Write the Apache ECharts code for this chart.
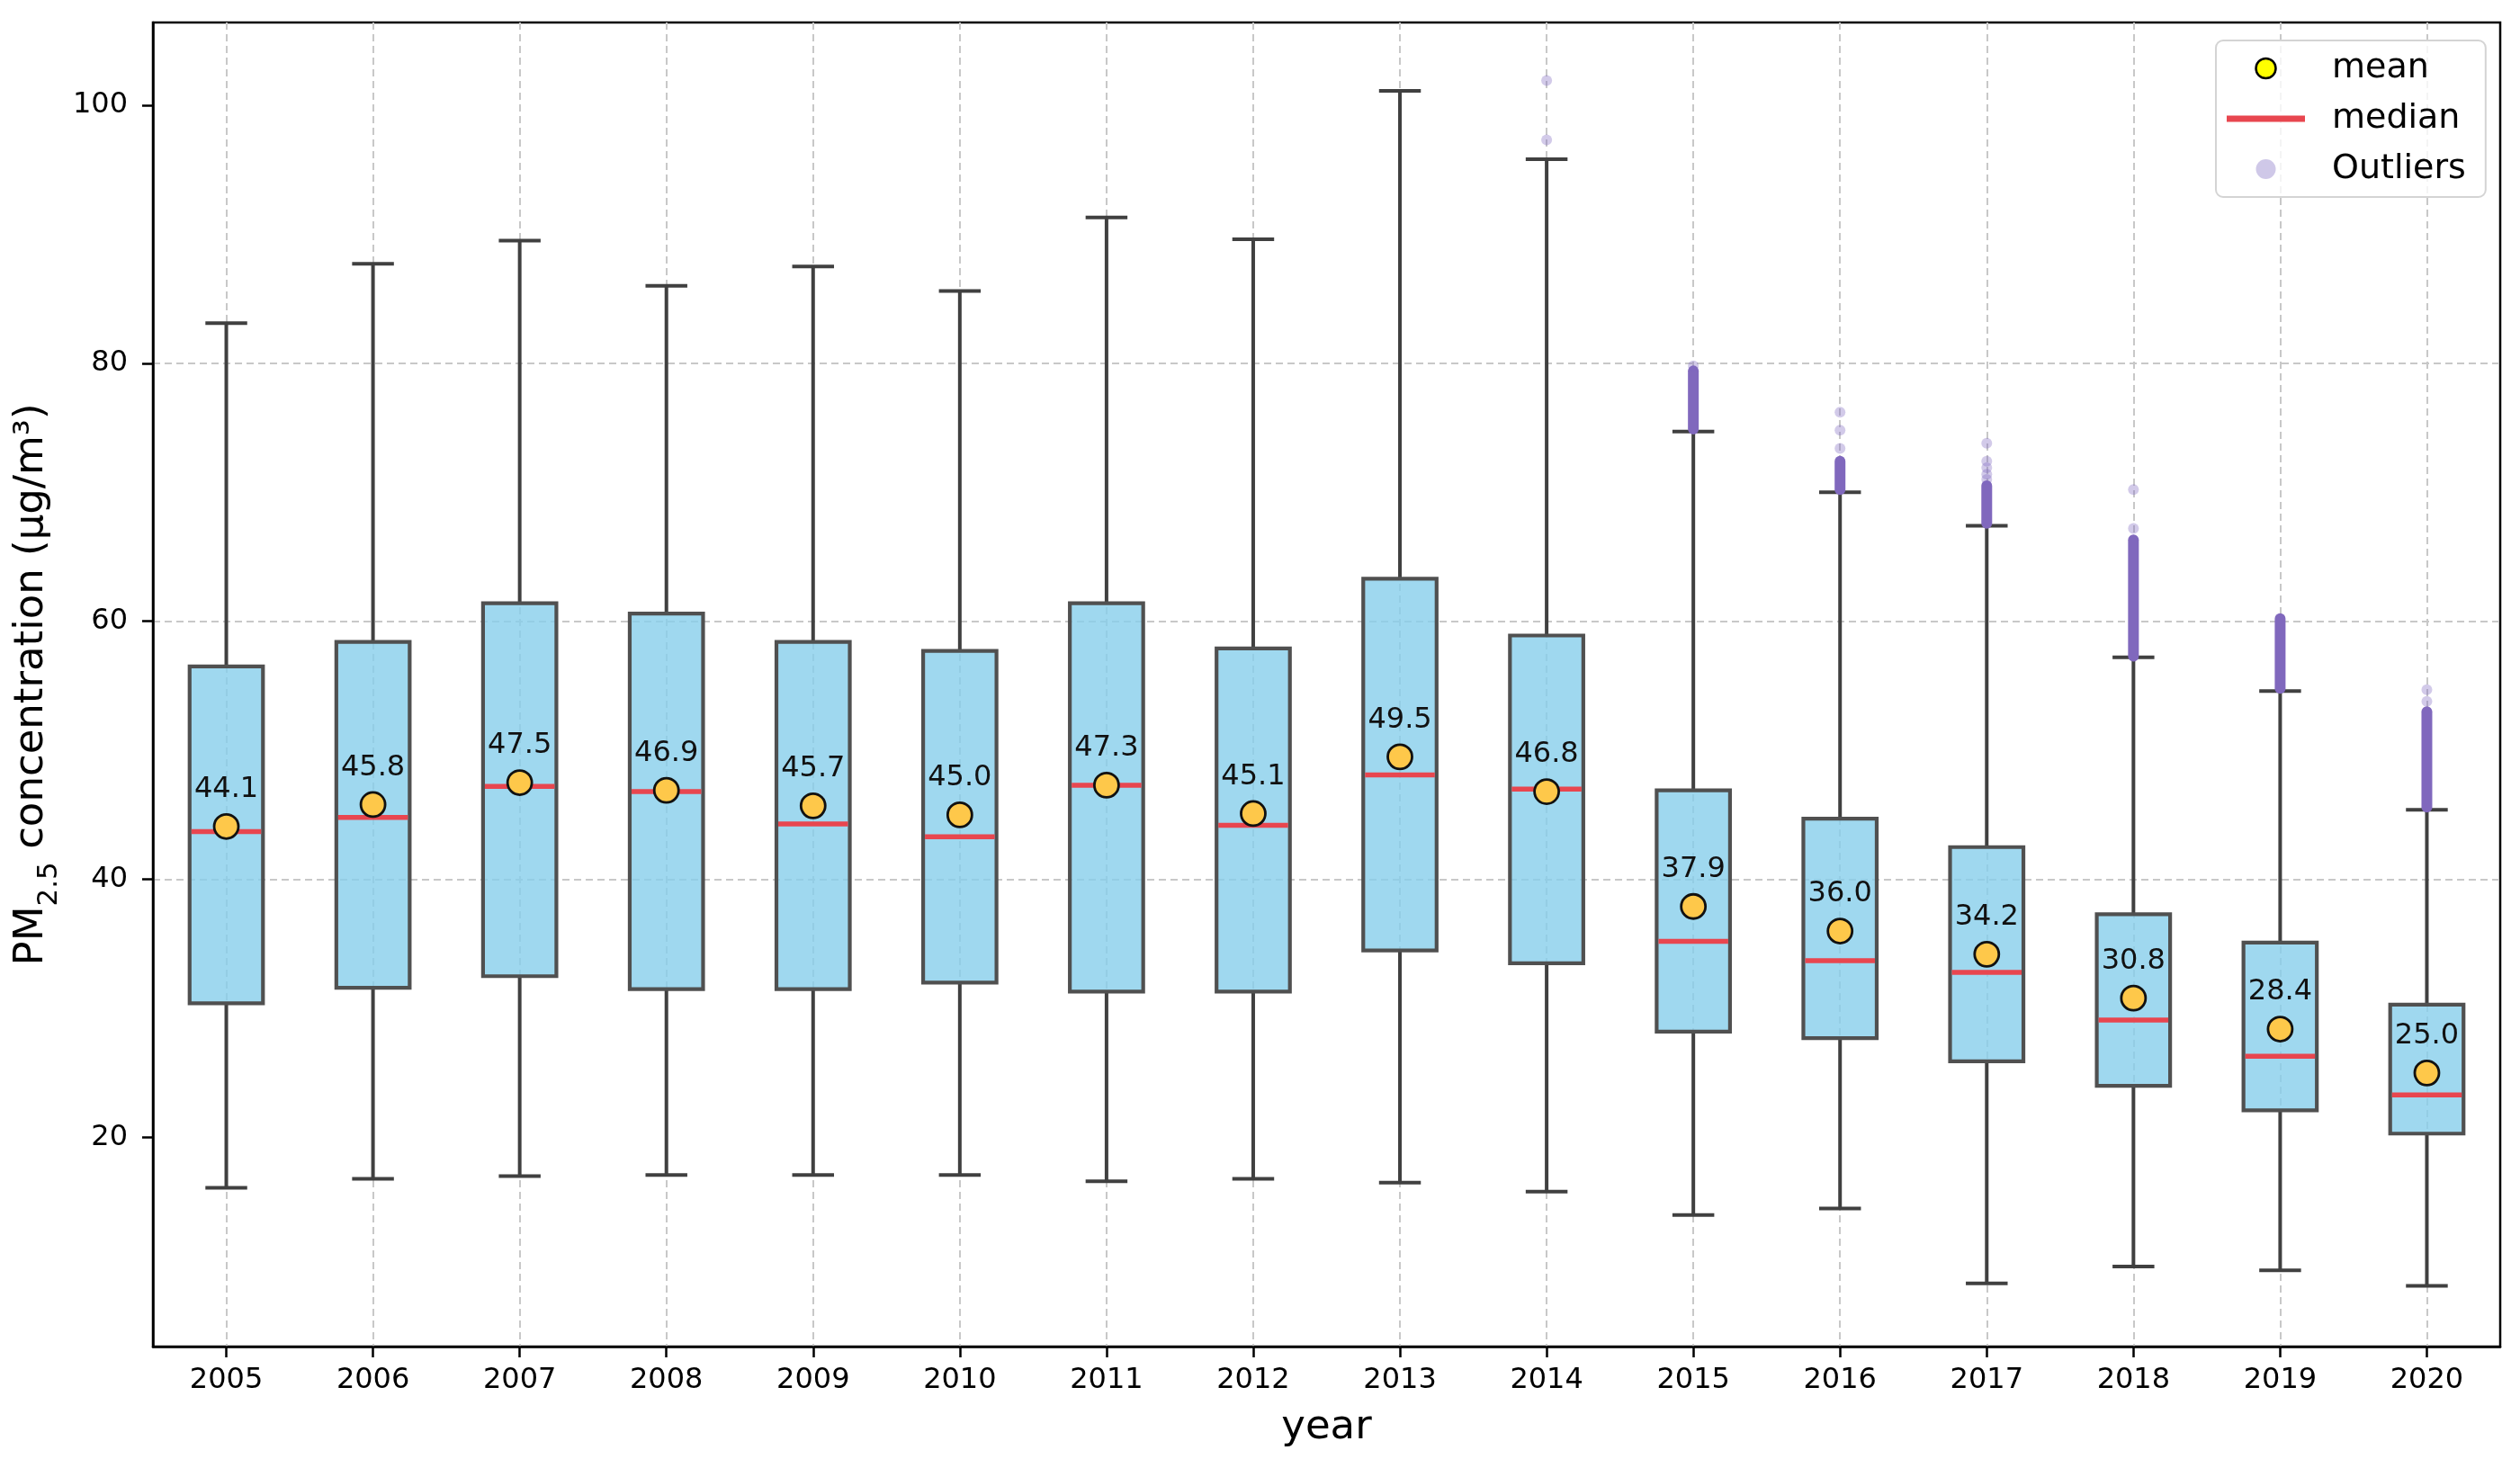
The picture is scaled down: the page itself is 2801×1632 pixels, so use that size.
<!DOCTYPE html>
<html>
<head>
<meta charset="utf-8">
<script src="https://cdn.jsdelivr.net/npm/echarts@6/dist/echarts.min.js"></script>
<style>
html,body{margin:0;padding:0;background:#ffffff;}
#chart{width:2801px;height:1632px;}
</style>
</head>
<body>
<div id="chart"></div>
<script>
// ---- data ----
const years = ['2005','2006','2007','2008','2009','2010','2011','2012','2013','2014','2015','2016','2017','2018','2019','2020'];
const whiskerLow  = [16.1, 16.8, 17.0, 17.1, 17.1, 17.1, 16.6, 16.8, 16.5, 15.8, 14.0, 14.5, 8.7, 10.0, 9.7, 8.5];
const q1          = [30.4, 31.6, 32.5, 31.5, 31.5, 32.0, 31.3, 31.3, 34.5, 33.5, 28.2, 27.7, 25.9, 24.0, 22.1, 20.3];
const medians     = [43.7, 44.8, 47.2, 46.8, 44.3, 43.3, 47.3, 44.2, 48.1, 47.0, 35.2, 33.7, 32.8, 29.1, 26.3, 23.3];
const q3          = [56.5, 58.4, 61.4, 60.6, 58.4, 57.7, 61.4, 57.9, 63.3, 58.9, 46.9, 44.7, 42.5, 37.3, 35.1, 30.3];
const whiskerHigh = [83.1, 87.7, 89.5, 86.0, 87.5, 85.6, 91.3, 89.6, 101.1, 95.8, 74.7, 70.0, 67.4, 57.2, 54.6, 45.4];
const means       = [44.1, 45.8, 47.5, 46.9, 45.7, 45.0, 47.3, 45.1, 49.5, 46.8, 37.9, 36.0, 34.2, 30.8, 28.4, 25.0];
const yTicks = [20, 40, 60, 80, 100];
// isolated outliers [year, value]
const outlierPoints = [
  ['2014', 97.3], ['2014', 101.9],
  ['2015', 79.8],
  ['2016', 73.4], ['2016', 74.8], ['2016', 76.2],
  ['2017', 71.0], ['2017', 71.4], ['2017', 71.9], ['2017', 72.4], ['2017', 73.8],
  ['2018', 67.2], ['2018', 70.2],
  ['2020', 53.8], ['2020', 54.7]
];
// densely packed outlier runs [year, from, to]
const outlierBands = [
  ['2015', 74.9, 79.4],
  ['2016', 70.2, 72.4],
  ['2017', 67.6, 70.5],
  ['2018', 57.3, 66.3],
  ['2019', 54.8, 60.2],
  ['2020', 45.6, 53.0]
];

// ---- styles ----
const FONT = 'DejaVu Sans';
const boxFill = 'rgba(135,206,235,0.8)';
const boxEdge = '#505050';
const whiskerColor = '#404040';
const medianColor = '#e8464f';
const meanColor = '#fec84a';
const outlierColor = '#7e66c0';
const bandColor = '#8068bd';

const boxData = years.map((y, i) => [y, whiskerLow[i], q1[i], medians[i], q3[i], whiskerHigh[i]]);
const meanData = years.map((y, i) => [y, means[i]]);

const chart = echarts.init(document.getElementById('chart'), null, {renderer: 'canvas'});

const option = {
  animation: false,
  backgroundColor: '#ffffff',
  textStyle: {fontFamily: FONT},
  grid: {
    left: 170, right: 22, top: 25, bottom: 135,
    show: true, borderColor: '#000', borderWidth: 2.5, backgroundColor: 'transparent'
  },
  xAxis: {
    type: 'category',
    data: years,
    boundaryGap: true,
    name: 'year',
    nameLocation: 'middle',
    nameGap: 68,
    nameTextStyle: {fontSize: 45, color: '#000', fontFamily: FONT},
    axisLine: {show: true, lineStyle: {color: '#000', width: 2.5}},
    axisTick: {show: true, alignWithLabel: true, interval: 0, length: 12, lineStyle: {color: '#000', width: 2.5}},
    axisLabel: {interval: 0, fontSize: 32, color: '#000', margin: 22, fontFamily: FONT},
    splitLine: {show: true, alignWithLabel: true, interval: 0, lineStyle: {color: '#c8c8c8', width: 2, type: [8, 5]}}
  },
  yAxis: {
    type: 'value',
    min: 3.8,
    max: 106.4,
    splitNumber: 5,
    name: '{n|PM}{s|2.5}{n| concentration (μg/m³)}',
    nameLocation: 'middle',
    nameGap: 102,
    nameTextStyle: {
      color: '#000',
      fontFamily: FONT,
      rich: {
        n: {fontSize: 45, lineHeight: 45, color: '#000', fontFamily: FONT},
        s: {fontSize: 31, lineHeight: 31, color: '#000', fontFamily: FONT, verticalAlign: 'top', padding: [26, 0, 0, 0]}
      }
    },
    axisLine: {show: true, lineStyle: {color: '#000', width: 2.5}},
    axisTick: {show: true, length: 12, customValues: yTicks, lineStyle: {color: '#000', width: 2.5}},
    axisLabel: {fontSize: 32, color: '#000', margin: 28, customValues: yTicks, fontFamily: FONT},
    splitLine: {show: true, showMinLine: false, showMaxLine: false, lineStyle: {color: '#c8c8c8', width: 2, type: [8, 5]}}
  },
  legend: {
    orient: 'vertical',
    left: 2463,
    top: 45,
    itemWidth: 87,
    itemHeight: 22,
    itemGap: 18,
    padding: [12, 22, 12, 12],
    backgroundColor: 'rgba(255,255,255,0.8)',
    borderColor: '#d4d4d4',
    borderWidth: 2,
    borderRadius: 8,
    symbolKeepAspect: true,
    textStyle: {fontSize: 38, color: '#000', fontFamily: FONT, padding: [0, 0, 0, 25]},
    data: [
      {name: 'mean', icon: 'circle', itemStyle: {color: '#ffff00', borderColor: '#000', borderWidth: 2.5, opacity: 1}},
      {name: 'median', icon: 'path://M0,0H87V7H0Z', itemStyle: {color: medianColor, borderWidth: 0, opacity: 1}},
      {name: 'Outliers', icon: 'circle', itemStyle: {color: '#cfc8e8', borderWidth: 0, opacity: 1}}
    ]
  },
  series: [
    {
      type: 'custom',
      name: 'box',
      data: boxData,
      encode: {x: 0, y: [1, 2, 3, 4, 5]},
      z: 2,
      renderItem: function (params, api) {
        const xi = api.value(0);
        const pLow = api.coord([xi, api.value(1)]);
        const pQ1 = api.coord([xi, api.value(2)]);
        const pMed = api.coord([xi, api.value(3)]);
        const pQ3 = api.coord([xi, api.value(4)]);
        const pHigh = api.coord([xi, api.value(5)]);
        const band = api.size([1, 0])[0];
        const bw = band * 0.5;
        const cw = band * 0.285;
        const cx = pLow[0];
        const ws = {stroke: whiskerColor, lineWidth: 4, fill: null};
        return {
          type: 'group',
          children: [
            {type: 'line', shape: {x1: cx, y1: pLow[1], x2: cx, y2: pQ1[1]}, style: ws},
            {type: 'line', shape: {x1: cx, y1: pQ3[1], x2: cx, y2: pHigh[1]}, style: ws},
            {type: 'line', shape: {x1: cx - cw / 2, y1: pLow[1], x2: cx + cw / 2, y2: pLow[1]}, style: ws},
            {type: 'line', shape: {x1: cx - cw / 2, y1: pHigh[1], x2: cx + cw / 2, y2: pHigh[1]}, style: ws},
            {type: 'rect', shape: {x: cx - bw / 2, y: pQ3[1], width: bw, height: pQ1[1] - pQ3[1]},
             style: {fill: boxFill, stroke: boxEdge, lineWidth: 4.2}},
            {type: 'line', shape: {x1: cx - bw / 2 + 2, y1: pMed[1], x2: cx + bw / 2 - 2, y2: pMed[1]},
             style: {stroke: medianColor, lineWidth: 5.5}}
          ]
        };
      }
    },
    {
      type: 'line',
      name: 'median',
      data: [],
      symbol: 'none',
      lineStyle: {color: medianColor, width: 7},
      itemStyle: {color: medianColor}
    },
    {
      type: 'custom',
      name: 'Outliers',
      data: outlierBands,
      encode: {x: 0, y: [1, 2]},
      z: 3,
      renderItem: function (params, api) {
        const xi = api.value(0);
        const a = api.coord([xi, api.value(1)]);
        const b = api.coord([xi, api.value(2)]);
        return {
          type: 'line',
          shape: {x1: a[0], y1: a[1], x2: b[0], y2: b[1]},
          style: {stroke: bandColor, lineWidth: 12, lineCap: 'round'}
        };
      }
    },
    {
      type: 'scatter',
      name: 'Outliers',
      data: outlierPoints,
      symbol: 'circle',
      symbolSize: 12,
      z: 3,
      itemStyle: {color: outlierColor, opacity: 0.35, borderWidth: 0}
    },
    {
      type: 'scatter',
      name: 'mean',
      data: meanData,
      symbol: 'circle',
      symbolSize: 27,
      z: 5,
      itemStyle: {color: meanColor, borderColor: '#111', borderWidth: 2.8, opacity: 1},
      label: {
        show: true,
        position: 'top',
        distance: 10,
        fontSize: 32,
        color: '#111',
        fontFamily: FONT,
        formatter: function (p) { return p.value[1].toFixed(1); }
      }
    }
  ]
};

chart.setOption(option);
</script>
</body>
</html>
